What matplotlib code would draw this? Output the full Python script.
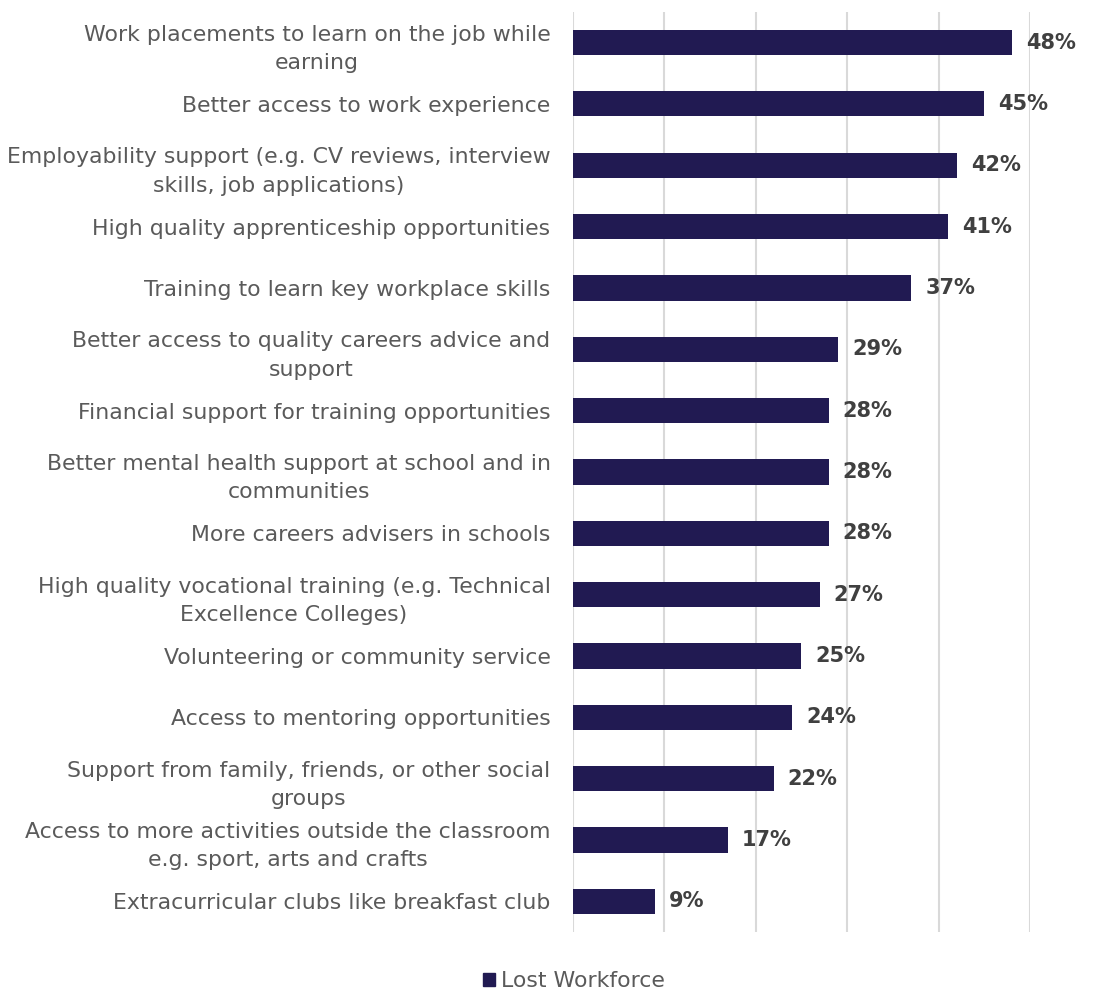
import matplotlib
matplotlib.use("Agg")
import matplotlib.pyplot as plt
from matplotlib.patches import Patch

categories = [
    "Work placements to learn on the job while\nearning",
    "Better access to work experience",
    "Employability support (e.g. CV reviews, interview\nskills, job applications)",
    "High quality apprenticeship opportunities",
    "Training to learn key workplace skills",
    "Better access to quality careers advice and\nsupport",
    "Financial support for training opportunities",
    "Better mental health support at school and in\ncommunities",
    "More careers advisers in schools",
    "High quality vocational training (e.g. Technical\nExcellence Colleges)",
    "Volunteering or community service",
    "Access to mentoring opportunities",
    "Support from family, friends, or other social\ngroups",
    "Access to more activities outside the classroom\ne.g. sport, arts and crafts",
    "Extracurricular clubs like breakfast club",
]
values = [48, 45, 42, 41, 37, 29, 28, 28, 28, 27, 25, 24, 22, 17, 9]
series_name = "Lost Workforce"

bar_color = "#211A52"
plt.rcParams["font.family"] = ["DejaVu Sans"]

fig = plt.figure(figsize=(11.1, 9.91), dpi=100)
ax = fig.add_axes([0.516, 0.0595, 0.412, 0.9285])

y = list(range(len(categories)))
ax.barh(y, values, height=0.41, color=bar_color, zorder=3)
ax.set_ylim(len(categories) - 0.5, -0.5)
ax.set_xlim(0, 50)
ax.set_xticks(range(0, 51, 10))
ax.xaxis.grid(True, color="#D9D9D9", linewidth=1.5, zorder=0)
ax.tick_params(axis="x", length=0, labelbottom=False)
ax.tick_params(axis="y", length=0, pad=16)
ax.set_yticks(y)
ax.set_yticklabels(categories, fontsize=15.8, color="#5A5A5A", multialignment="center",
                   linespacing=1.52)
for s in ax.spines.values():
    s.set_visible(False)

for yi, v in zip(y, values):
    ax.annotate(f"{v}%", xy=(v, yi), xytext=(10, 0), textcoords="offset points",
                ha="left", va="center", fontsize=15, fontweight="bold", color="#404040")

fig.legend(handles=[Patch(color=bar_color, label=series_name)], loc="lower center",
           bbox_to_anchor=(0.517, -0.02), frameon=False, fontsize=15.8,
           handlelength=0.55, handleheight=0.55, handletextpad=0.3, labelcolor="#5A5A5A")

fig.savefig("out.png", dpi=100)
